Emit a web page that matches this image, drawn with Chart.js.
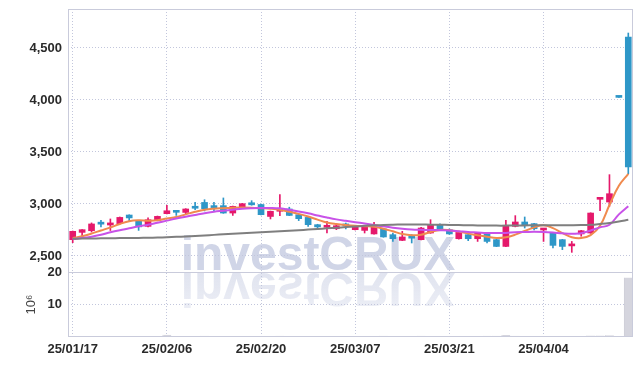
<!DOCTYPE html>
<html><head><meta charset="utf-8">
<script src="https://cdn.jsdelivr.net/npm/chart.js@4.4.1/dist/chart.umd.min.js"></script>
<style>html,body{margin:0;padding:0;background:#fff}#wrap{width:642px;height:366px;position:relative}</style>
</head><body><div id="wrap"><canvas id="c" width="642" height="366"></canvas></div>
<script>
const dates = ["25/01/17","25/01/20","25/01/21","25/01/22","25/01/23","25/01/24","25/01/31","25/02/03","25/02/04","25/02/05",
"25/02/06","25/02/07","25/02/10","25/02/11","25/02/12","25/02/13","25/02/14","25/02/17","25/02/18","25/02/19",
"25/02/20","25/02/21","25/02/24","25/02/25","25/02/26","25/02/27","25/02/28","25/03/04","25/03/05","25/03/06",
"25/03/07","25/03/10","25/03/11","25/03/12","25/03/13","25/03/14","25/03/17","25/03/18","25/03/19","25/03/20",
"25/03/21","25/03/24","25/03/25","25/03/26","25/03/27","25/03/28","25/03/31","25/04/01","25/04/02","25/04/03",
"25/04/04","25/04/07","25/04/08","25/04/09","25/04/10","25/04/11","25/04/14","25/04/15","25/04/16","25/04/17"];
const opens = [2657,2727,2743,2812,2798,2811,2894,2833,2785,2842,2907,2935,2919,2963,3015,2969,2984,2913,2967,3012,
2995,2880,2930,2952,2897,2871,2801,2776,2762,2793,2753,2746,2712,2760,2705,2650,2675,2657,2721,2801,
2753,2666,2705,2666,2714,2657,2592,2785,2827,2811,2750,2721,2657,2597,2712,2721,3045,3019,4030,4606];
const highs = [2740,2755,2818,2842,2856,2875,2896,2836,2866,2884,2987,2938,2955,3015,3041,3015,3058,2980,3006,3032,
3000,2932,3090,2969,2900,2875,2805,2833,2795,2817,2788,2795,2823,2765,2721,2737,2705,2775,2849,2808,
2760,2730,2720,2725,2718,2660,2842,2888,2875,2815,2755,2725,2660,2640,2746,2915,3052,3282,4030,4644];
const lows = [2628,2690,2730,2779,2745,2808,2835,2746,2780,2838,2905,2890,2904,2945,2933,2929,2910,2890,2963,2988,
2895,2856,2888,2888,2840,2785,2753,2721,2753,2760,2750,2721,2710,2680,2640,2647,2625,2655,2718,2750,
2708,2662,2647,2640,2625,2590,2590,2780,2769,2750,2640,2577,2561,2535,2690,2718,2935,2977,4025,3290];
const closes = [2737,2753,2808,2806,2818,2871,2866,2780,2849,2881,2935,2920,2952,2959,2955,2965,2913,2977,3003,2992,
2897,2930,2952,2890,2859,2801,2780,2790,2791,2789,2785,2791,2779,2683,2666,2683,2671,2769,2801,2753,
2712,2727,2666,2721,2640,2592,2785,2827,2801,2762,2753,2602,2592,2601,2743,2913,3050,3099,4025,3356];
const volumes = [0.3,0.25,0.3,0.2,0.25,0.3,0.3,0.25,0.25,0.3,0.7,0.3,0.25,0.25,0.35,0.2,0.3,0.25,0.2,0.2,
0.3,0.25,0.35,0.25,0.2,0.25,0.2,0.3,0.2,0.15,0.2,0.2,0.3,0.35,0.3,0.25,0.2,0.4,0.3,0.2,
0.2,0.3,0.3,0.3,0.4,0.4,0.6,0.4,0.3,0.2,0.2,0.25,0.25,0.3,0.3,0.5,0.5,0.55,0.2,18.3];
const ma5 = [2673,2690,2715,2745,2775,2808,2835,2843,2840,2843,2860,2875,2900,2925,2945,2955,2960,2965,2967,2965,
2960,2955,2945,2925,2905,2880,2850,2822,2807,2797,2790,2786,2781,2762,2737,2712,2700,2705,2730,2750,
2748,2735,2715,2700,2685,2672,2680,2705,2740,2775,2795,2768,2720,2680,2672,2700,2790,2990,3175,3290];
const ma20 = [2663,2672,2686,2705,2728,2748,2766,2785,2800,2820,2840,2860,2878,2895,2912,2925,2935,2945,2955,2960,
2962,2962,2958,2945,2928,2910,2890,2870,2852,2838,2825,2812,2798,2785,2772,2762,2755,2752,2750,2748,
2745,2738,2730,2726,2722,2720,2722,2728,2730,2732,2730,2725,2718,2714,2718,2745,2775,2800,2900,2978];
const ma60 = [2665,2667,2668,2670,2671,2672,2673,2674,2675,2677,2680,2684,2688,2693,2698,2703,2708,2713,2718,2723,
2728,2733,2738,2743,2748,2754,2760,2766,2772,2778,2784,2790,2795,2799,2801,2802,2802,2802,2801,2800,
2799,2797,2795,2794,2793,2792,2792,2793,2794,2795,2796,2796,2796,2796,2797,2800,2808,2818,2832,2848];
const priceTicks = [2500,3000,3500,4000,4500];
const volumeTicks = [10,20];
const labelEvery = 10;

const UP = '#e5196b', DOWN = '#2e97c8';
const candleColors = closes.map((c,i) => c > opens[i] ? UP : DOWN);
const FONT = "'Liberation Sans',Arial,sans-serif";

const decor = {
  id: 'decor',
  beforeDraw(chart) {
    const ctx = chart.ctx;
    ctx.save();
    ctx.font = 'bold 48px "Liberation Sans", Arial, sans-serif';
    ctx.textAlign = 'center';
    ctx.textBaseline = 'alphabetic';
    ctx.fillStyle = '#d0d5e7';
    ctx.fillText('investCRUX', 318, 270);
    ctx.translate(0, 543);
    ctx.scale(1, -1);
    const g = ctx.createLinearGradient(0, 270, 0, 232);
    g.addColorStop(0, 'rgba(208,213,231,0.65)');
    g.addColorStop(1, 'rgba(208,213,231,0.4)');
    ctx.fillStyle = g;
    ctx.fillText('investCRUX', 318, 270);
    ctx.restore();
  },
  afterDraw(chart) {
    const {ctx, chartArea: a, scales} = chart;
    ctx.save();
    ctx.strokeStyle = '#c9cbdb';
    ctx.lineWidth = 1;
    ctx.strokeRect(a.left + 0.5, a.top + 0.5, a.right - a.left - 1, a.bottom - a.top - 1);
    const ys = Math.round(scales.v.top) + 0.5;
    ctx.beginPath(); ctx.moveTo(a.left, ys); ctx.lineTo(a.right, ys); ctx.stroke();
    ctx.restore();
  }
};

const gridCommon = { color: '#c2c6dc', lineWidth: 1, drawTicks: false };
const borderCommon = { display: false, dash: [1, 2] };
const fitY = ax => { ax.width = 68; ax.paddingTop = 0; ax.paddingBottom = 0; };

new Chart(document.getElementById('c'), {
  type: 'bar',
  data: {
    labels: dates,
    datasets: [
      { type: 'line', data: ma60, yAxisID: 'y', borderColor: '#7f7f7f', borderWidth: 2, pointRadius: 0, tension: 0.4, order: 0 },
      { type: 'line', data: ma20, yAxisID: 'y', borderColor: '#c852e8', borderWidth: 2, pointRadius: 0, tension: 0.4, order: 0 },
      { type: 'line', data: ma5, yAxisID: 'y', borderColor: '#f08a4e', borderWidth: 2, pointRadius: 0, tension: 0.4, order: 0 },
      { type: 'bar', data: lows.map((l,i) => [l, highs[i]]), yAxisID: 'y', backgroundColor: candleColors, barThickness: 1, grouped: false, order: 1 },
      { type: 'bar', data: opens.map((o,i) => [o, closes[i]]), yAxisID: 'y', backgroundColor: candleColors, barThickness: 6, minBarLength: 2, grouped: false, order: 1 },
      { type: 'bar', data: volumes, yAxisID: 'v', backgroundColor: '#d5d5de', borderColor: '#c4c4cf', borderWidth: {left: 1}, barPercentage: 1, categoryPercentage: 0.95, grouped: false, order: 2 }
    ]
  },
  options: {
    responsive: false,
    animation: false,
    devicePixelRatio: 1,
    events: [],
    layout: { padding: { top: 9, right: 9, left: 0, bottom: 0 } },
    plugins: { legend: { display: false }, tooltip: { enabled: false } },
    scales: {
      x: {
        type: 'category', offset: true,
        grid: Object.assign({ offset: false }, gridCommon),
        border: borderCommon,
        ticks: { autoSkip: false, maxRotation: 0, padding: 5, color: '#2a2a2a', font: { family: FONT, size: 13, weight: 'bold' } },
        afterBuildTicks: ax => { ax.ticks = ax.ticks.filter(t => t.value % labelEvery === 0); },
        afterFit: ax => { ax.height = 29; ax.paddingLeft = 0; ax.paddingRight = 0; }
      },
      v: {
        position: 'left', stack: 'main', stackWeight: 65,
        min: 0, max: 20,
        grid: gridCommon, border: borderCommon,
        title: { display: true, text: '10⁶', color: '#444', font: { family: "'Liberation Sans','DejaVu Sans',sans-serif", size: 13 }, padding: { top: 24, bottom: 0 } },
        ticks: { padding: 6, color: '#2a2a2a', font: { family: FONT, size: 13, weight: 'bold' } },
        afterBuildTicks: ax => { ax.ticks = volumeTicks.map(v => ({ value: v })); },
        afterFit: fitY
      },
      y: {
        position: 'left', stack: 'main', stackWeight: 263,
        min: 2346, max: 4875,
        grid: gridCommon, border: borderCommon,
        ticks: { padding: 6, color: '#2a2a2a', font: { family: FONT, size: 13, weight: 'bold' },
          callback: v => v.toLocaleString('en-US') },
        afterBuildTicks: ax => { ax.ticks = priceTicks.map(v => ({ value: v })); },
        afterFit: fitY
      }
    }
  },
  plugins: [decor]
});
</script>
</body></html>
